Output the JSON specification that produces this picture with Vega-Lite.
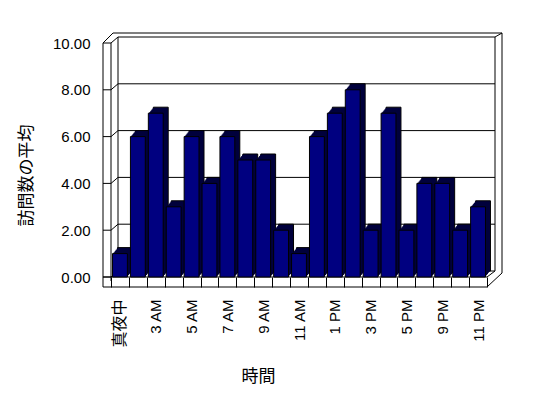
{
  "$schema": "https://vega.github.io/schema/vega-lite/v6.json",
  "width": 376,
  "height": 234,
  "autosize": {"type": "none"},
  "padding": {"left": 111, "top": 43, "right": 61, "bottom": 121},
  "background": "white",
  "config": {"view": {"stroke": null}},
  "data": {"values": [
    {"hour": "真夜中", "avg": 1},
    {"hour": "1 AM", "avg": 6},
    {"hour": "3 AM", "avg": 7},
    {"hour": "4 AM", "avg": 3},
    {"hour": "5 AM", "avg": 6},
    {"hour": "6 AM", "avg": 4},
    {"hour": "7 AM", "avg": 6},
    {"hour": "8 AM", "avg": 5},
    {"hour": "9 AM", "avg": 5},
    {"hour": "10 AM", "avg": 2},
    {"hour": "11 AM", "avg": 1},
    {"hour": "正午", "avg": 6},
    {"hour": "1 PM", "avg": 7},
    {"hour": "2 PM", "avg": 8},
    {"hour": "3 PM", "avg": 2},
    {"hour": "4 PM", "avg": 7},
    {"hour": "5 PM", "avg": 2},
    {"hour": "7 PM", "avg": 4},
    {"hour": "9 PM", "avg": 4},
    {"hour": "10 PM", "avg": 2},
    {"hour": "11 PM", "avg": 3}
  ]},
  "layer": [
    {
      "data": {"values": [{}]},
      "mark": {"type": "rect", "fill": "white", "stroke": "black", "strokeWidth": 1, "xOffset": 7, "x2Offset": 8, "yOffset": -6, "y2Offset": -6},
      "encoding": {
        "x": {"datum": "真夜中", "type": "nominal", "bandPosition": 0},
        "x2": {"datum": "11 PM", "bandPosition": 1},
        "y": {"datum": 10, "type": "quantitative"},
        "y2": {"datum": 0}
      }
    },
    {
      "data": {"values": [{"v": 2}, {"v": 4}, {"v": 6}, {"v": 8}]},
      "mark": {"type": "rule", "color": "black", "strokeWidth": 1, "xOffset": 7, "x2Offset": 8, "yOffset": -6},
      "encoding": {
        "x": {"datum": "真夜中", "type": "nominal", "bandPosition": 0},
        "x2": {"datum": "11 PM", "bandPosition": 1},
        "y": {"field": "v", "type": "quantitative"}
      }
    },
    {
      "data": {"values": [{}]},
      "mark": {"type": "rule", "color": "black", "strokeWidth": 1, "xOffset": 2, "x2Offset": 15, "yOffset": -10},
      "encoding": {
        "x": {"datum": "真夜中", "type": "nominal", "bandPosition": 0},
        "x2": {"datum": "11 PM", "bandPosition": 1},
        "y": {"datum": 10, "type": "quantitative"}
      }
    },
    {
      "data": {"values": [{}]},
      "mark": {"type": "rule", "color": "black", "strokeWidth": 1, "xOffset": 15, "yOffset": -10, "y2Offset": -4},
      "encoding": {
        "x": {"datum": "11 PM", "type": "nominal", "bandPosition": 1},
        "y": {"datum": 10, "type": "quantitative"},
        "y2": {"datum": 0}
      }
    },
    {
      "data": {"values": [{}]},
      "mark": {"type": "rule", "color": "black", "strokeWidth": 1, "xOffset": 8, "x2Offset": 15, "yOffset": -6, "y2Offset": -10},
      "encoding": {
        "x": {"datum": "11 PM", "type": "nominal", "bandPosition": 1},
        "x2": {"datum": "11 PM", "bandPosition": 1},
        "y": {"datum": 10, "type": "quantitative"},
        "y2": {"datum": 10}
      }
    },
    {
      "data": {"values": [{}]},
      "mark": {"type": "rule", "color": "black", "strokeWidth": 1, "xOffset": -8, "x2Offset": 2, "yOffset": 0, "y2Offset": -10},
      "encoding": {
        "x": {"datum": "真夜中", "type": "nominal", "bandPosition": 0},
        "x2": {"datum": "真夜中", "bandPosition": 0},
        "y": {"datum": 10, "type": "quantitative"},
        "y2": {"datum": 10}
      }
    },
    {
      "data": {"values": [{}]},
      "mark": {"type": "rule", "color": "black", "strokeWidth": 1, "xOffset": -8, "y2Offset": 10},
      "encoding": {
        "x": {"datum": "真夜中", "type": "nominal", "bandPosition": 0},
        "y": {"datum": 10, "type": "quantitative"},
        "y2": {"datum": 0}
      }
    },
    {
      "data": {"values": [{}]},
      "mark": {"type": "rule", "color": "black", "strokeWidth": 1, "y2Offset": 4},
      "encoding": {
        "x": {"datum": "真夜中", "type": "nominal", "bandPosition": 0},
        "y": {"datum": 10, "type": "quantitative"},
        "y2": {"datum": 0}
      }
    },
    {
      "data": {"values": [{"v": 0}, {"v": 2}, {"v": 4}, {"v": 6}, {"v": 8}, {"v": 10}]},
      "mark": {"type": "rule", "color": "black", "strokeWidth": 1, "xOffset": -8},
      "encoding": {
        "x": {"datum": "真夜中", "type": "nominal", "bandPosition": 0},
        "x2": {"datum": "真夜中", "bandPosition": 0},
        "y": {"field": "v", "type": "quantitative"}
      }
    },
    {
      "data": {"values": [{"v": 0}, {"v": 2}, {"v": 4}, {"v": 6}, {"v": 8}, {"v": 10}]},
      "mark": {"type": "rule", "color": "black", "strokeWidth": 1, "x2Offset": 7, "y2Offset": -6},
      "encoding": {
        "x": {"datum": "真夜中", "type": "nominal", "bandPosition": 0},
        "x2": {"datum": "真夜中", "bandPosition": 0},
        "y": {"field": "v", "type": "quantitative"},
        "y2": {"field": "v"}
      }
    },
    {
      "data": {"values": [{}]},
      "mark": {"type": "rule", "color": "black", "strokeWidth": 1, "xOffset": -8, "yOffset": 10},
      "encoding": {
        "x": {"datum": "真夜中", "type": "nominal", "bandPosition": 0},
        "x2": {"datum": "11 PM", "bandPosition": 1},
        "y": {"datum": 0, "type": "quantitative"}
      }
    },
    {
      "data": {"values": [{}]},
      "mark": {"type": "rule", "color": "black", "strokeWidth": 1, "xOffset": -8},
      "encoding": {
        "x": {"datum": "真夜中", "type": "nominal", "bandPosition": 0},
        "x2": {"datum": "11 PM", "bandPosition": 1},
        "y": {"datum": 0, "type": "quantitative"}
      }
    },
    {
      "data": {"values": [{}]},
      "mark": {"type": "rule", "color": "black", "strokeWidth": 1, "x2Offset": 8, "y2Offset": -6},
      "encoding": {
        "x": {"datum": "11 PM", "type": "nominal", "bandPosition": 1},
        "x2": {"datum": "11 PM", "bandPosition": 1},
        "y": {"datum": 0, "type": "quantitative"},
        "y2": {"datum": 0}
      }
    },
    {
      "data": {"values": [{}]},
      "mark": {"type": "rule", "color": "black", "strokeWidth": 1, "yOffset": 10, "x2Offset": 15, "y2Offset": -4},
      "encoding": {
        "x": {"datum": "11 PM", "type": "nominal", "bandPosition": 1},
        "x2": {"datum": "11 PM", "bandPosition": 1},
        "y": {"datum": 0, "type": "quantitative"},
        "y2": {"datum": 0}
      }
    },
    {
      "mark": {"type": "bar", "width": {"band": 0.83}, "fill": "#00003c", "stroke": "black", "strokeWidth": 1, "xOffset": 5, "yOffset": -6, "y2Offset": -6},
      "encoding": {
        "x": {"field": "hour", "type": "nominal", "sort": null},
        "y": {"field": "avg", "type": "quantitative"}
      }
    },
    {
      "mark": {"type": "bar", "width": {"band": 0.83}, "fill": "#00003c", "xOffset": 4.2, "yOffset": -5, "y2Offset": -5},
      "encoding": {
        "x": {"field": "hour", "type": "nominal", "sort": null},
        "y": {"field": "avg", "type": "quantitative"}
      }
    },
    {
      "mark": {"type": "bar", "width": {"band": 0.83}, "fill": "#00003c", "xOffset": 3.3, "yOffset": -4, "y2Offset": -4},
      "encoding": {
        "x": {"field": "hour", "type": "nominal", "sort": null},
        "y": {"field": "avg", "type": "quantitative"}
      }
    },
    {
      "mark": {"type": "bar", "width": {"band": 0.83}, "fill": "#00003c", "xOffset": 2.5, "yOffset": -3, "y2Offset": -3},
      "encoding": {
        "x": {"field": "hour", "type": "nominal", "sort": null},
        "y": {"field": "avg", "type": "quantitative"}
      }
    },
    {
      "mark": {"type": "bar", "width": {"band": 0.83}, "fill": "#00003c", "xOffset": 1.7, "yOffset": -2, "y2Offset": -2},
      "encoding": {
        "x": {"field": "hour", "type": "nominal", "sort": null},
        "y": {"field": "avg", "type": "quantitative"}
      }
    },
    {
      "mark": {"type": "bar", "width": {"band": 0.83}, "fill": "#00003c", "xOffset": 0.8, "yOffset": -1, "y2Offset": -1},
      "encoding": {
        "x": {"field": "hour", "type": "nominal", "sort": null},
        "y": {"field": "avg", "type": "quantitative"}
      }
    },
    {
      "mark": {"type": "bar", "width": {"band": 0.83}, "fill": "#000080", "stroke": "black", "strokeWidth": 1},
      "encoding": {
        "x": {
          "field": "hour", "type": "nominal", "sort": null,
          "scale": {
            "domain": ["真夜中", "1 AM", "3 AM", "4 AM", "5 AM", "6 AM", "7 AM", "8 AM", "9 AM", "10 AM", "11 AM", "正午", "1 PM", "2 PM", "3 PM", "4 PM", "5 PM", "7 PM", "9 PM", "10 PM", "11 PM"],
            "paddingInner": 0, "paddingOuter": 0
          },
          "axis": {
            "title": "時間",
            "titleFont": "Noto Sans CJK JP", "titleFontSize": 17, "titleFontWeight": "normal", "titleColor": "black",
            "titleX": 147, "titleY": 99, "titleBaseline": "middle", "titleAlign": "center", "titleAnchor": null,
            "domain": false, "grid": false,
            "ticks": true, "tickBand": "extent", "tickSize": 10, "tickColor": "black", "tickWidth": 1,
            "labelAngle": -90, "labelAlign": "right", "labelBaseline": "middle", "labelPadding": 12,
            "labelFont": {"condition": {"test": "datum.value === '真夜中'", "value": "Noto Sans CJK JP"}, "value": "Liberation Sans"},
            "labelColor": "black",
            "labelFontSize": {"condition": {"test": "datum.value === '真夜中'", "value": 16}, "value": 15},
            "labelOverlap": false, "labelBound": false,
            "labelExpr": "indexof(['真夜中','3 AM','5 AM','7 AM','9 AM','11 AM','1 PM','3 PM','5 PM','9 PM','11 PM'], datum.value) >= 0 ? datum.label : ''"
          }
        },
        "y": {
          "field": "avg", "type": "quantitative",
          "scale": {"domain": [0, 10], "nice": false},
          "axis": {
            "title": "訪問数の平均",
            "titleFont": "Noto Sans CJK JP", "titleFontSize": 17, "titleFontWeight": "normal", "titleColor": "black",
            "titleX": -85, "titleY": 132, "titleAngle": 270, "titleBaseline": "middle", "titleAlign": "center", "titleAnchor": null,
            "values": [0, 2, 4, 6, 8, 10], "format": ".2f",
            "domain": false, "ticks": false, "grid": false,
            "labelFont": "Liberation Sans", "labelFontSize": 15, "labelColor": "black", "labelPadding": 21
          }
        }
      }
    }
  ]
}
